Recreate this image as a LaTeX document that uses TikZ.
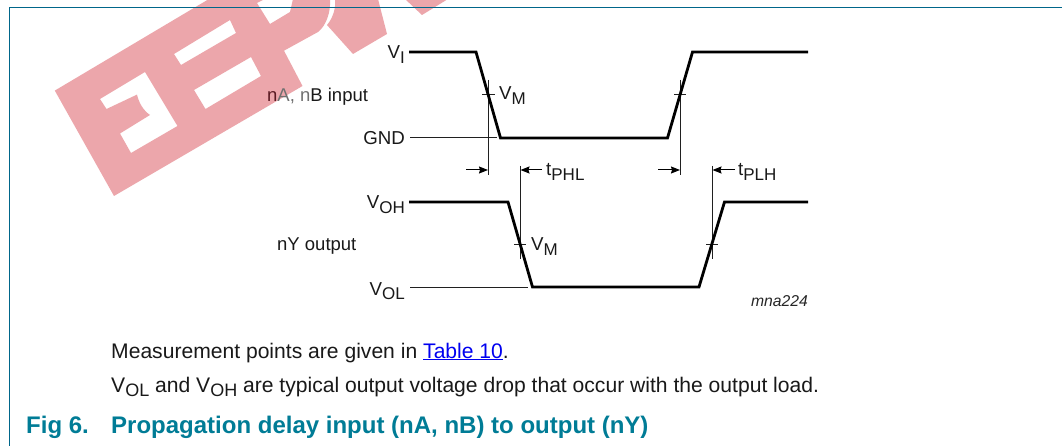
\documentclass[tikz,border=0pt]{standalone}
\usepackage{fontspec}
\setmainfont{Liberation Sans}
\usetikzlibrary{arrows.meta}
\definecolor{wm}{HTML}{ECA6AB}
\definecolor{frameblue}{HTML}{00668A}
\definecolor{capteal}{HTML}{007C96}
\definecolor{linkblue}{HTML}{0000F0}
\definecolor{thinline}{HTML}{202020}
\definecolor{fade}{HTML}{707070}
\definecolor{fadered}{HTML}{5A1A22}
\newcommand{\lsub}[1]{\raisebox{-0.24em}{\fontsize{17}{20}\selectfont #1}}
\newcommand{\nsub}[1]{\raisebox{-0.2em}{\fontsize{18}{20}\selectfont #1}}
\tikzset{
  wave/.style={line width=2.8pt,black,line join=miter},
  thin line/.style={line width=1pt,thinline},
  dimarrow/.style={line width=1pt,black,-{Stealth[length=9pt,width=7pt,inset=1pt]}},
  lab/.style={inner sep=0pt,anchor=base east,font=\fontsize{18.7}{22}\selectfont,text=black!90},
  labw/.style={inner sep=0pt,anchor=base west,font=\fontsize{18.7}{22}\selectfont,text=black!90},
  note/.style={inner sep=0pt,anchor=base west,font=\fontsize{21.1}{25}\selectfont,text=black!90},
  caption/.style={inner sep=0pt,anchor=base west,font=\fontsize{24}{28}\selectfont\bfseries,text=capteal},
}
\begin{document}
\begin{tikzpicture}[x=1pt,y=-1pt]
\useasboundingbox (0,0) rectangle (1062,446);
\fill[white] (0,0) rectangle (1062,446);
% watermark
\begin{scope}
\clip (0,0) rectangle (1062,446);
\fill[wm,even odd rule]
  (54.8,90.6) -- (114,196) -- (302.5,86) -- (284,50.7) -- (318,32)
  .. controls (326,26) and (331,12) .. (330,-1) -- (209,-1) -- cycle
  (174,54) -- (230,20) -- (236,33) -- (181,65) -- cycle
  (194,90) -- (251,57) -- (261,76) -- (205.5,109) -- cycle
  (100,99) -- (145,72) -- (177.5,126) -- (131,153) -- (120,133.5) -- (150,115)
  .. controls (143,110) and (139,103) .. (137,94.6) -- (106.5,109) -- cycle
  (257,3) -- (270,24) -- (290,12) -- (293,-1) -- (265,-1) -- cycle;
\fill[wm] (327,25) -- (353,54) -- (387,34) -- (378,-1) -- (335,-1)
  .. controls (336,8) and (333,18) .. (327,25) -- cycle;
\fill[wm] (405,-1) -- (422,15) -- (448,-1) -- cycle;
\end{scope}
% frame
\draw[frameblue,line width=1pt] (9.5,446) -- (9.5,7.5) -- (1062,7.5);
% thin lines
\draw[thin line] (410,138) -- (497,138);
\draw[thin line] (410,287) -- (528,287);
\draw[thin line] (488,80) -- (488,175);
\draw[thin line] (482,95) -- (495,95);
\draw[thin line] (680,80) -- (680,175);
\draw[thin line] (674,95) -- (686,95);
\draw[thin line] (520.5,166) -- (520.5,259);
\draw[thin line] (514,245) -- (526,245);
\draw[thin line] (712.5,166) -- (712.5,259);
\draw[thin line] (706,245) -- (718,245);
% arrows
\coordinate (a1s) at (466,170); \coordinate (a1e) at (488,170);
\coordinate (a2s) at (542,170); \coordinate (a2e) at (520.5,170);
\coordinate (a3s) at (658,170); \coordinate (a3e) at (680,170);
\coordinate (a4s) at (735,170); \coordinate (a4e) at (712.5,170);
\draw[dimarrow] (a1s) -- (a1e);
\draw[dimarrow] (a2s) -- (a2e);
\draw[dimarrow] (a3s) -- (a3e);
\draw[dimarrow] (a4s) -- (a4e);
% waveforms
\draw[wave] (409,52) -- (476,52) -- (500.5,138) -- (667.5,138) -- (692.5,52) -- (808,52);
\draw[wave] (409,202) -- (508,202) -- (532.5,287) -- (699,287) -- (724.5,202) -- (808,202);
% labels
\node[lab] (vi) at (405,59) {V\lsub{I}};
\node[lab] (gnd) at (405,145) {GND};
\node[lab] (voh) at (405,209) {V\lsub{OH}};
\node[lab] (vol) at (405,295) {V\lsub{OL}};
\node[labw] (vm1) at (499,100) {V\lsub{M}};
\node[labw] (vm2) at (531,251) {V\lsub{M}};
\node[labw] (tphl) at (546,176) {t\lsub{PHL}};
\node[labw] (tplh) at (738,176) {t\lsub{PLH}};
\node[labw,font=\fontsize{18.5}{22}\selectfont] (nab) at (267,102) {{\color{fadered}n}{\color{fade}A, n}B input};
\node[labw,font=\fontsize{18.5}{22}\selectfont] (ny) at (277,251) {nY output};
\node[inner sep=0pt,anchor=base east,font=\fontsize{15.7}{18}\selectfont\itshape,text=black!85] (mna) at (808,306) {mna224};
\node[note] (note1) at (111,358) {Measurement points are given in {\color{linkblue}\underline{Table 10}}.};
\node[note] (note2) at (111,392) {V\nsub{OL} and V\nsub{OH} are typical output voltage drop that occur with the output load.};
\node[caption] (figno) at (26,433) {Fig 6.};
\node[caption] (figt) at (111,433) {Propagation delay input (nA, nB) to output (nY)};
\end{tikzpicture}
\end{document}
